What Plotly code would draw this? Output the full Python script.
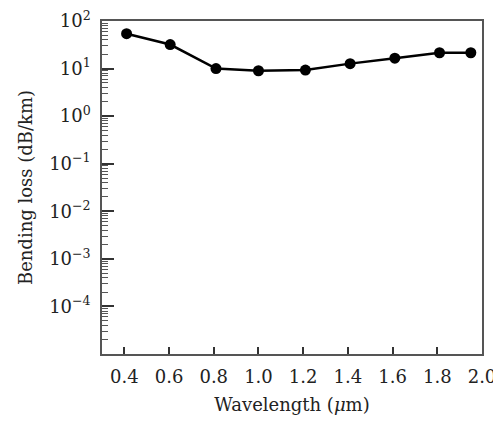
import plotly.graph_objects as go

wavelength = [0.41, 0.605, 0.81, 1.0, 1.21, 1.41, 1.61, 1.81, 1.95]
bending_loss = [54, 32, 10, 9.0, 9.3, 12.7, 16.5, 21.5, 21.5]

ytick_vals = [1e2, 1e1, 1e0, 1e-1, 1e-2, 1e-3, 1e-4]
ytick_text = ["10<sup>2</sup>", "10<sup>1</sup>", "10<sup>0</sup>", "10<sup>\u22121</sup>",
              "10<sup>\u22122</sup>", "10<sup>\u22123</sup>", "10<sup>\u22124</sup>"]
xtick_vals = [0.4, 0.6, 0.8, 1.0, 1.2, 1.4, 1.6, 1.8, 2.0]
xtick_text = ["0.4", "0.6", "0.8", "1.0", "1.2", "1.4", "1.6", "1.8", "2.0"]

fig = go.Figure()
fig.add_trace(go.Scatter(
    x=wavelength, y=bending_loss, mode="lines+markers",
    line=dict(color="black", width=2.5),
    marker=dict(color="black", size=11),
    showlegend=False, cliponaxis=False,
))

font_family = "DejaVu Serif"
axis_color = "#555555"

# The page body has an 8px margin, so the figure is sized to fit inside the 501x423 window.
fig.update_layout(
    width=493, height=407,
    margin=dict(l=94, r=19, t=13, b=61),
    paper_bgcolor="white", plot_bgcolor="white",
    font=dict(family=font_family, size=18, color="#222222"),
)
fig.update_xaxes(
    range=[0.3, 2.0], tickmode="array", tickvals=xtick_vals, ticktext=xtick_text,
    ticks="inside", ticklen=7, tickwidth=1.5, tickcolor="#333333",
    showline=True, linecolor=axis_color, linewidth=1.5, mirror=True,
    showgrid=False, zeroline=False, automargin=False, ticklabeloverflow="allow",
    ticklabelstandoff=6,
    title=dict(text="Wavelength (<i>\u03bc</i>m)", standoff=19, font=dict(size=18)),
    tickfont=dict(size=18),
)
fig.update_yaxes(
    type="log", range=[-5, 2], tickmode="array", tickvals=ytick_vals, ticktext=ytick_text,
    ticks="inside", ticklen=12, tickwidth=1.5, tickcolor="#333333",
    minor=dict(ticks="inside", ticklen=6, tickwidth=1, tickcolor="#555555", dtick="D1", showgrid=False),
    showline=True, linecolor=axis_color, linewidth=1.5, mirror=True,
    showgrid=False, zeroline=False, automargin=False, ticklabeloverflow="allow",
    ticklabelstandoff=6,
    title=dict(text="Bending loss (dB/km)", standoff=12, font=dict(size=18)),
    tickfont=dict(size=18),
)

fig.write_html("out.html")
